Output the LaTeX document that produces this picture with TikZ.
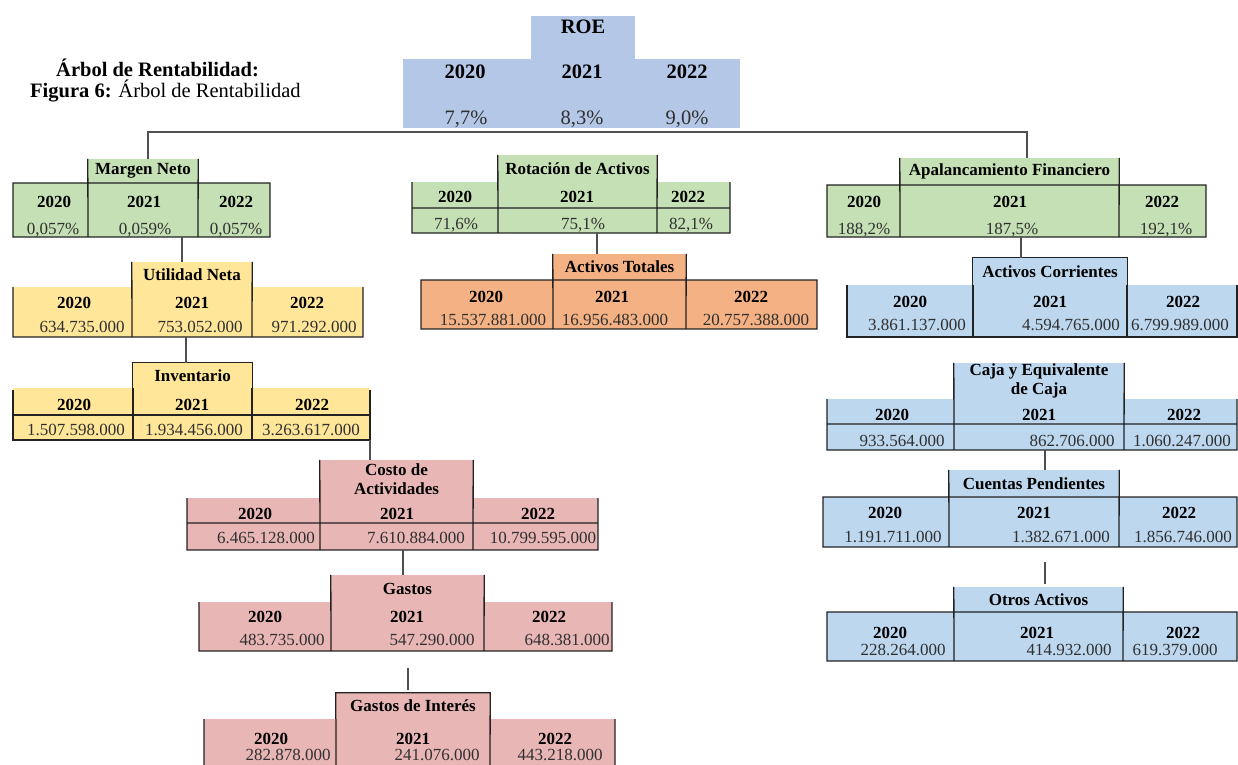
\documentclass[tikz,border=0pt]{standalone}
\usepackage{fontspec}
\setmainfont{Liberation Serif}

\definecolor{azulroe}{HTML}{B4C7E7}
\definecolor{verde}{HTML}{C5E0B4}
\definecolor{amarillo}{HTML}{FFE699}
\definecolor{naranja}{HTML}{F4B183}
\definecolor{rosa}{HTML}{E8B6B5}
\definecolor{celeste}{HTML}{BDD7EE}
\definecolor{gris}{HTML}{303030}
\definecolor{linea}{HTML}{222222}
\definecolor{conec}{HTML}{505050}

\newcommand{\roefont}{\fontsize{20.5}{24}\selectfont}
\newcommand{\celda}[7]{\node[titulo, fill=#6, minimum width={(#4)-(#2)}, minimum height={(#5)-(#3)}] (#1) at ({((#2)+(#4))/2},{((#3)+(#5))/2}) {#7};}
\newcommand{\anios}[5]{%
  \node[anio] (#1a) at (#3,#2) {2020};
  \node[anio] (#1b) at (#4,#2) {2021};
  \node[anio] (#1c) at (#5,#2) {2022};}
\newcommand{\valores}[8]{%
  \node[valor] (#1x) at (#3,#2) {#4};
  \node[valor] (#1y) at (#5,#2) {#6};
  \node[valor] (#1z) at (#7,#2) {#8};}

\begin{document}
\fontsize{17}{19}\selectfont
\begin{tikzpicture}[x=1pt,y=-1pt]
\tikzstyle{titulo} = [font=\bfseries, inner sep=0pt, align=center]
\tikzstyle{anio} = [font=\bfseries, inner sep=0pt, text height=11.5pt, text depth=0pt]
\tikzstyle{valor} = [text=gris, inner sep=0pt, text height=11.5pt, text depth=0pt]
\tikzstyle{borde} = [line width=1.3pt, draw=linea]
\tikzstyle{conector} = [line width=1.5pt, draw=conec]
\useasboundingbox (0,0) rectangle (1238,764);

\node[anchor=west, inner sep=0pt, font=\fontsize{20.5}{24}\selectfont\bfseries] (tit) at (56,68) {Árbol de Rentabilidad:};
\node[anchor=west, inner sep=0pt, font=\fontsize{20.5}{24}\selectfont] (fig) at (30,91) {\textbf{Figura 6:} Árbol de Rentabilidad};

% ROE
\fill[azulroe] (403,59) rectangle (740,128);
\node[titulo, fill=azulroe, minimum width=104pt, minimum height=43pt, text depth=22pt, font=\roefont\bfseries] (roe) at (583,37.5) {ROE};
\node[anio, font=\roefont\bfseries, text height=13.5pt] (roea) at (465,72) {2020};
\node[anio, font=\roefont\bfseries, text height=13.5pt] (roeb) at (582,72) {2021};
\node[anio, font=\roefont\bfseries, text height=13.5pt] (roec) at (687,72) {2022};
\node[valor, font=\roefont, text height=13.5pt] (roex) at (466,118) {7,7\%};
\node[valor, font=\roefont, text height=13.5pt] (roey) at (582,118) {8,3\%};
\node[valor, font=\roefont, text height=13.5pt] (roez) at (687,118) {9,0\%};

% Margen Neto
\fill[verde] (13,183) rectangle (270,237);
\celda{mn}{88}{159}{198}{183}{verde}{Margen Neto}
\draw[borde] (13,183) rectangle (270,237) (mn.north west) -- (88,237) (mn.north east) -- (198,237);
\anios{mn}{202}{54}{144}{236}
\valores{mn}{229}{53}{0,057\%}{145}{0,059\%}{236}{0,057\%}

% Utilidad Neta
\fill[amarillo] (13,287) rectangle (363,337);
\celda{un}{132}{262}{252}{287}{amarillo}{Utilidad Neta}
\draw[borde] (13,287) -- (13,337) -- (363,337) -- (363,287) (un.north west) -- (132,337) (un.north east) -- (252,337);
\anios{un}{303}{74}{192}{307}
\valores{un}{327}{82}{634.735.000}{200}{753.052.000}{314}{971.292.000}

% Inventario
\fill[amarillo] (13,388) rectangle (370,440);
\celda{inv}{133}{363}{252}{388}{amarillo}{Inventario}
\draw[borde] (inv.south west) -- (inv.north west) -- (inv.north east) -- (inv.south east) (13,390) -- (13,440) -- (370,440) -- (370,390) (13,415) -- (370,415) (133,388) -- (133,440) (252,388) -- (252,440);
\anios{inv}{405}{74}{192}{312}
\valores{inv}{430}{76}{1.507.598.000}{194}{1.934.456.000}{311}{3.263.617.000}

% Costo de Actividades
\fill[rosa] (187,498) rectangle (598,550);
\celda{ca}{320}{460}{473}{498}{rosa}{Costo de\\Actividades}
\draw[borde] (ca.north west) -- (320,550) (ca.north east) -- (473,550) (187,498) -- (187,550) -- (598,550) -- (598,498) (187,523) -- (598,523);
\anios{ca}{514}{255}{397}{538}
\valores{ca}{538}{266}{6.465.128.000}{416}{7.610.884.000}{543}{10.799.595.000}

% Gastos
\fill[rosa] (199,602) rectangle (612,651);
\celda{ga}{331}{575}{484}{602}{rosa}{Gastos}
\draw[borde] (ga.north west) -- (331,651) (ga.north east) -- (484,651) (199,602) -- (199,651) -- (612,651) -- (612,602);
\anios{ga}{617}{265}{407}{549}
\valores{ga}{640}{282}{483.735.000}{432}{547.290.000}{567}{648.381.000}

% Gastos de Interes
\fill[rosa] (204,719) rectangle (615,770);
\celda{gi}{336}{693}{490}{719}{rosa}{Gastos de Interés}
\draw[borde] (gi.south west) -- (gi.north west) -- (gi.north east) -- (490,770) (336,719) -- (336,770) (204,719) -- (204,770) (615,719) -- (615,770);
\anios{gi}{739}{271}{413}{555}
\valores{gi}{755}{288}{282.878.000}{437}{241.076.000}{560}{443.218.000}

% Rotacion de Activos
\fill[verde] (412,182) rectangle (730,233);
\celda{ra}{498}{155}{657}{182}{verde}{Rotación de Activos}
\draw[borde] (ra.north west) -- (498,233) (ra.north east) -- (657,233) (412,182) -- (412,233) -- (730,233) -- (730,182) (412,208) -- (730,208);
\anios{ra}{197}{455}{577}{688}
\valores{ra}{224}{456}{71,6\%}{583}{75,1\%}{691}{82,1\%}

% Activos Totales
\fill[naranja] (421,280) rectangle (817,329);
\celda{act}{553}{254}{686}{280}{naranja}{Activos Totales}
\draw[borde] (421,280) rectangle (817,329) (act.north west) -- (553,329) (act.north east) -- (686,329);
\anios{act}{297}{486}{612}{751}
\valores{act}{320}{493}{15.537.881.000}{615}{16.956.483.000}{756}{20.757.388.000}

% Apalancamiento Financiero
\fill[verde] (827,185) rectangle (1206,237);
\celda{af}{900}{158}{1119}{185}{verde}{Apalancamiento Financiero}
\draw[borde] (827,185) rectangle (1206,237) (af.north west) -- (900,237) (af.north east) -- (1119,237);
\anios{af}{202}{864}{1010}{1162}
\valores{af}{229}{864}{188,2\%}{1012}{187,5\%}{1166}{192,1\%}

% Activos Corrientes
\fill[celeste] (847,285) rectangle (1237,337);
\celda{ac}{973}{258}{1127}{285}{celeste}{Activos Corrientes}
\draw[borde] (ac.south west) -- (ac.north west) -- (ac.north east) -- (ac.south east) (847,285) -- (847,337) -- (1237,337) -- (1237,285) (973,285) -- (973,337) (1127,285) -- (1127,337);
\anios{ac}{302}{910}{1050}{1183}
\valores{ac}{325}{917}{3.861.137.000}{1071}{4.594.765.000}{1180}{6.799.989.000}

% Caja y Equivalente de Caja
\fill[celeste] (827,399) rectangle (1237,450);
\celda{cj}{954}{363}{1124}{399}{celeste}{Caja y Equivalente\\de Caja}
\draw[borde] (cj.north west) -- (954,450) (cj.north east) -- (1124,450) (827,399) -- (827,450) -- (1237,450) -- (1237,399) (827,424) -- (1237,424);
\anios{cj}{415}{892}{1039}{1184}
\valores{cj}{441}{902}{933.564.000}{1072}{862.706.000}{1182}{1.060.247.000}

% Cuentas Pendientes
\fill[celeste] (823,497) rectangle (1237,547);
\celda{cp}{949}{470}{1119}{497}{celeste}{Cuentas Pendientes}
\draw[borde] (823,497) rectangle (1237,547) (cp.north west) -- (949,547) (cp.north east) -- (1119,547);
\anios{cp}{513}{885}{1034}{1179}
\valores{cp}{537}{893}{1.191.711.000}{1061}{1.382.671.000}{1183}{1.856.746.000}

% Otros Activos
\fill[celeste] (827,612) rectangle (1237,661);
\celda{oa}{954}{587}{1123}{612}{celeste}{Otros Activos}
\draw[borde] (827,612) rectangle (1237,661) (oa.north west) -- (954,661) (oa.north east) -- (1123,661);
\anios{oa}{633}{890}{1037}{1183}
\valores{oa}{650}{903}{228.264.000}{1069}{414.932.000}{1175}{619.379.000}

% conectores
\coordinate (izq) at (148,132);
\coordinate (der) at (1027,132);
\draw[conector] (izq |- mn.north) -- (izq) -- (der) -- (der |- af.north);
\coordinate (mnb) at (182,237);
\draw[conector] (mnb) -- (mnb |- un.north);
\coordinate (unb) at (186,337);
\draw[conector] (unb) -- (unb |- inv.north);
\coordinate (invb) at (370,440);
\draw[conector] (invb) -- (invb |- ca.north);
\coordinate (cab) at (403,550);
\draw[conector] (cab) -- (cab |- ga.north);
\coordinate (gab) at (408,668);
\draw[conector, shorten >=3pt] (gab) -- (gab |- gi.north);
\coordinate (rab) at (597,233);
\draw[conector] (rab) -- (rab |- act.north);
\coordinate (afb) at (1021,237);
\draw[conector] (afb) -- (afb |- ac.north);
\coordinate (cjb) at (1045,450);
\draw[conector] (cjb) -- (cjb |- cp.north);
\coordinate (cpb) at (1045,562);
\draw[conector, shorten >=3pt] (cpb) -- (cpb |- oa.north);
\end{tikzpicture}
\end{document}
